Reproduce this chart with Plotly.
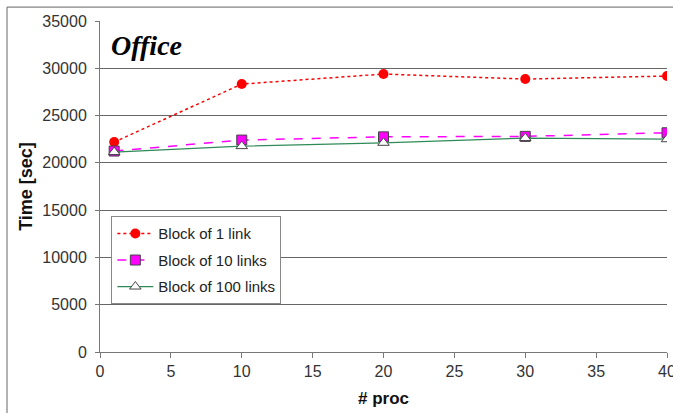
import plotly.graph_objects as go

procs = [1, 10, 20, 30, 40]
block1 = [22200, 28330, 29390, 28860, 29180]
block10 = [21250, 22410, 22750, 22800, 23180]
block100 = [21140, 21770, 22120, 22620, 22500]
series_names = ["Block of 1 link", "Block of 10 links", "Block of 100 links"]
y_ticks = list(range(0, 35001, 5000))
x_ticks = [0, 5, 10, 15, 20, 25, 30, 35, 40]

fig = go.Figure()
fig.add_trace(go.Scatter(x=procs, y=block1, name=series_names[0], mode="lines+markers",
                         legendgroup="a",
                         line=dict(color="#FF0000", dash="dot", width=1.5),
                         marker=dict(symbol="circle", size=10, color="#FF0000")))
fig.add_trace(go.Scatter(x=procs, y=block10, name=series_names[1], mode="lines+markers",
                         legendgroup="b",
                         line=dict(color="#FF00FF", dash="dash", width=1.5),
                         marker=dict(symbol="square", size=10, color="#FF00FF",
                                     line=dict(color="#444444", width=1))))
fig.add_trace(go.Scatter(x=procs, y=block100, name=series_names[2], mode="lines+markers",
                         legendgroup="c",
                         line=dict(color="#2E8B57", width=1.2),
                         marker=dict(symbol="triangle-up", size=10, color="white",
                                     line=dict(color="#444444", width=1))))

fig.update_layout(
    width=673, height=413,
    margin=dict(l=100, r=6, t=21, b=61, autoexpand=False),
    paper_bgcolor="white", plot_bgcolor="white",
    font=dict(family="Liberation Sans, Arial", size=16, color="#333333"),
    showlegend=True,
    legend=dict(x=0.02, y=0.41, xanchor="left", yanchor="top",
                bordercolor="#888888", borderwidth=1, bgcolor="white",
                font=dict(size=15, color="#222222"), tracegroupgap=4,
                itemwidth=36),
    xaxis=dict(range=[0, 40], tickvals=x_ticks, ticktext=[str(v) for v in x_ticks],
               showgrid=False, showline=True, linecolor="#777777", linewidth=1,
               ticks="outside", tickcolor="#777777", ticklen=5, automargin=False,
               ticklabeloverflow="allow", tickfont=dict(size=16),
               title=dict(text="<b># proc</b>", font=dict(size=17, color="#111111"), standoff=12)),
    yaxis=dict(range=[0, 35000], tickvals=y_ticks, ticktext=[str(v) for v in y_ticks],
               showgrid=True, gridcolor="#666666", gridwidth=1,
               showline=True, linecolor="#777777", linewidth=1,
               ticks="outside", tickcolor="#777777", ticklen=4, automargin=False,
               ticklabelstandoff=5, tickfont=dict(size=16),
               zeroline=False,
               title=dict(text="<b>Time [sec]</b>", font=dict(size=18, color="#111111"), standoff=4)),
    shapes=[dict(type="rect", xref="paper", yref="paper", layer="below",
                 x0=-0.164, x1=1.05, y0=-0.3, y1=1.042,
                 line=dict(color="#666666", width=1))],
    annotations=[dict(text="<b><i>Office</i></b>", xref="paper", yref="paper",
                      x=0.016, y=0.98, xanchor="left", yanchor="top", showarrow=False,
                      font=dict(family="Liberation Serif, Times New Roman", size=28, color="black"))],
)

fig.write_html("out.html", config={"displayModeBar": False},
               post_script="document.body.style.margin='0';document.body.style.overflow='hidden';")
